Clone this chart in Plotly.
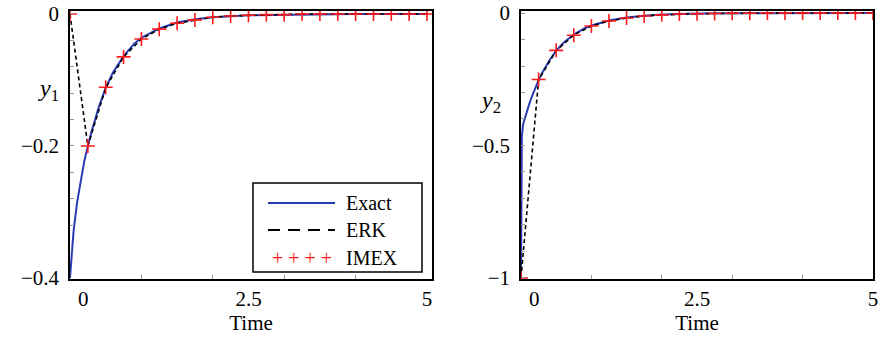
import plotly.graph_objects as go
from plotly.subplots import make_subplots

# ---- data -------------------------------------------------------------
# time grid of the numerical schemes (step 0.25)
t_steps = [0, 0.25, 0.5, 0.75, 1.0, 1.25, 1.5, 1.75, 2.0, 2.25, 2.5,
           2.75, 3.0, 3.25, 3.5, 3.75, 4.0, 4.25, 4.5, 4.75, 5.0]

# first component
t_exact1 = [0, 0.02, 0.05, 0.1, 0.15, 0.2, 0.25, 0.3, 0.4, 0.5, 0.6, 0.75,
            0.9, 1.0, 1.25, 1.5, 1.75, 2.0, 2.5, 3.0, 3.5, 4.0, 4.5, 5.0]
y1_exact = [-0.4, -0.367, -0.329, -0.285, -0.251, -0.223, -0.2, -0.179,
            -0.142, -0.112, -0.089, -0.064, -0.045, -0.036, -0.022, -0.013,
            -0.008, -0.005, -0.002, -0.001, -0.0003, 0, 0, 0]
y1_erk = [0, -0.2, -0.112, -0.065, -0.038, -0.023, -0.014, -0.009, -0.005,
          -0.003, -0.002, -0.001, -0.001, 0, 0, 0, 0, 0, 0, 0, 0]
y1_imex = [0, -0.2, -0.111, -0.065, -0.038, -0.023, -0.014, -0.009, -0.005,
           -0.003, -0.002, -0.001, -0.001, 0, 0, 0, 0, 0, 0, 0, 0]

# second component
t_exact2 = [0, 0.001, 0.002, 0.004, 0.007, 0.012, 0.03, 0.06, 0.1, 0.15,
            0.2, 0.25, 0.3, 0.4, 0.5, 0.6, 0.75, 0.9, 1.0, 1.25, 1.5, 1.75,
            2.0, 2.5, 3.0, 3.5, 4.0, 4.5, 5.0]
y2_exact = [-1.0, -0.82, -0.66, -0.54, -0.49, -0.465, -0.42, -0.39, -0.358,
            -0.318, -0.284, -0.253, -0.226, -0.18, -0.142, -0.113, -0.081,
            -0.058, -0.047, -0.028, -0.017, -0.010, -0.006, -0.002, -0.001,
            -0.0003, 0, 0, 0]
y2_erk = [-1.0, -0.252, -0.142, -0.083, -0.049, -0.030, -0.019, -0.011,
          -0.007, -0.004, -0.003, -0.002, -0.001, -0.001, 0, 0, 0, 0, 0, 0, 0]
y2_imex = [-1.0, -0.251, -0.141, -0.084, -0.049, -0.030, -0.019, -0.011,
           -0.007, -0.004, -0.003, -0.002, -0.001, -0.001, 0, 0, 0, 0, 0, 0, 0]

x_tickvals = [0, 2.5, 5]
x_ticktext = ["\u2007\u2007\u20080", "2.5", "5"]
x_minor = [1, 2, 3, 4]

y1_tickvals = [0, -0.2, -0.4]
y1_ticktext = ["0", "\u22120.2", "\u22120.4"]
y1_minor = [-0.04, -0.08, -0.12, -0.16, -0.24, -0.28, -0.32, -0.36]

y2_tickvals = [0, -0.5, -1]
y2_ticktext = ["0", "\u22120.5", "\u22121"]
y2_minor = [-0.1, -0.2, -0.3, -0.4, -0.6, -0.7, -0.8, -0.9]

legend_names = ["Exact", "ERK", "IMEX"]

# ---- styling ----------------------------------------------------------
FONT = "Liberation Serif, Times New Roman, serif"
BLUE = "#2b3bb5"
RED = "#ff1a1a"

fig = make_subplots(rows=1, cols=2)

def add_panel(col, t_ex, y_ex, y_erk, y_imex):
    fig.add_trace(go.Scatter(x=t_ex, y=y_ex, mode="lines", name=legend_names[0],
                             line=dict(color=BLUE, width=2), showlegend=False),
                  row=1, col=col)
    fig.add_trace(go.Scatter(x=t_steps, y=y_erk, mode="lines", name=legend_names[1],
                             line=dict(color="black", width=1.6, dash="4px,3px"),
                             showlegend=False),
                  row=1, col=col)
    fig.add_trace(go.Scatter(x=t_steps, y=y_imex, mode="markers", name=legend_names[2],
                             marker=dict(symbol="cross-thin", size=10,
                                         line=dict(color=RED, width=1.6)),
                             showlegend=False),
                  row=1, col=col)

add_panel(1, t_exact1, y1_exact, y1_erk, y1_imex)
add_panel(2, t_exact2, y2_exact, y2_erk, y2_imex)

tickfont = dict(family=FONT, size=21, color="black")
minor_style = dict(ticks="inside", ticklen=4, tickcolor="#9a9a9a", tickwidth=1)

common_x = dict(showline=True, linecolor="black", linewidth=1.5, mirror=True,
                showgrid=False, zeroline=False, tickmode="array", automargin=False,
                tickvals=x_tickvals, ticktext=x_ticktext, ticks="",
                tickfont=tickfont, ticklabelstandoff=0,
                title=dict(text="Time", font=dict(family=FONT, size=21, color="black"),
                           standoff=0))
fig.update_xaxes(**common_x, minor=dict(tickmode="array", tickvals=x_minor, **minor_style))
fig.update_xaxes(domain=[70 / 881, 432 / 881], range=[0, 5.07], row=1, col=1)
fig.update_xaxes(domain=[521 / 881, 873 / 881], range=[0, 5.0], row=1, col=2)

common_y = dict(showline=True, linecolor="black", linewidth=1.5, mirror=True,
                showgrid=False, zeroline=False, tickmode="array", automargin=False,
                ticks="inside", ticklen=4, tickcolor="#9a9a9a",
                tickfont=tickfont, ticklabelstandoff=5,
                domain=[58 / 337, 326 / 337])
fig.update_yaxes(**common_y)
fig.update_yaxes(range=[-0.4015, 0.0045], tickvals=y1_tickvals, ticktext=y1_ticktext,
                 minor=dict(tickmode="array", tickvals=y1_minor, **minor_style),
                 row=1, col=1)
fig.update_yaxes(range=[-1.004, 0.0076], tickvals=y2_tickvals, ticktext=y2_ticktext,
                 minor=dict(tickmode="array", tickvals=y2_minor, **minor_style),
                 row=1, col=2)

# axis labels y1, y2
labfont = dict(family=FONT, size=24, color="black")
fig.add_annotation(text="<i>y</i><sub>1</sub>", x=48 / 881, y=(337 - 90) / 337,
                   xref="paper", yref="paper", xanchor="center", yanchor="middle",
                   showarrow=False, font=labfont)
fig.add_annotation(text="<i>y</i><sub>2</sub>", x=491 / 881, y=(337 - 102) / 337,
                   xref="paper", yref="paper", xanchor="center", yanchor="middle",
                   showarrow=False, font=labfont)

# legend box inside the first panel
lx0, lx1 = 253 / 881, 422 / 881
ly0, ly1 = (337 - 272) / 337, (337 - 183) / 337
fig.add_shape(type="rect", xref="paper", yref="paper", x0=lx0, x1=lx1, y0=ly0, y1=ly1,
              line=dict(color="black", width=1.5), fillcolor="white", layer="above")
rows_y = [(337 - 203) / 337, (337 - 230) / 337, (337 - 258) / 337]
sx0, sx1 = 268 / 881, 335 / 881
fig.add_shape(type="line", xref="paper", yref="paper", x0=sx0, x1=sx1,
              y0=rows_y[0], y1=rows_y[0], line=dict(color=BLUE, width=2.2), layer="above")
fig.add_shape(type="line", xref="paper", yref="paper", x0=sx0, x1=sx1,
              y0=rows_y[1], y1=rows_y[1],
              line=dict(color="black", width=2.2, dash="12px,8px"), layer="above")
fig.add_annotation(text="+ + + +", x=(sx0 + sx1) / 2, y=rows_y[2], xref="paper",
                   yref="paper", xanchor="center", yanchor="middle", showarrow=False,
                   font=dict(family=FONT, size=20, color=RED))
for name, yy in zip(legend_names, rows_y):
    fig.add_annotation(text=name, x=344 / 881, y=yy, xref="paper", yref="paper",
                       xanchor="left", yanchor="middle", showarrow=False,
                       font=dict(family=FONT, size=20, color="black"))

fig.update_layout(width=881, height=337, margin=dict(l=0, r=0, t=0, b=0),
                  plot_bgcolor="white", paper_bgcolor="white", showlegend=False)

fig.write_html("out.html")
